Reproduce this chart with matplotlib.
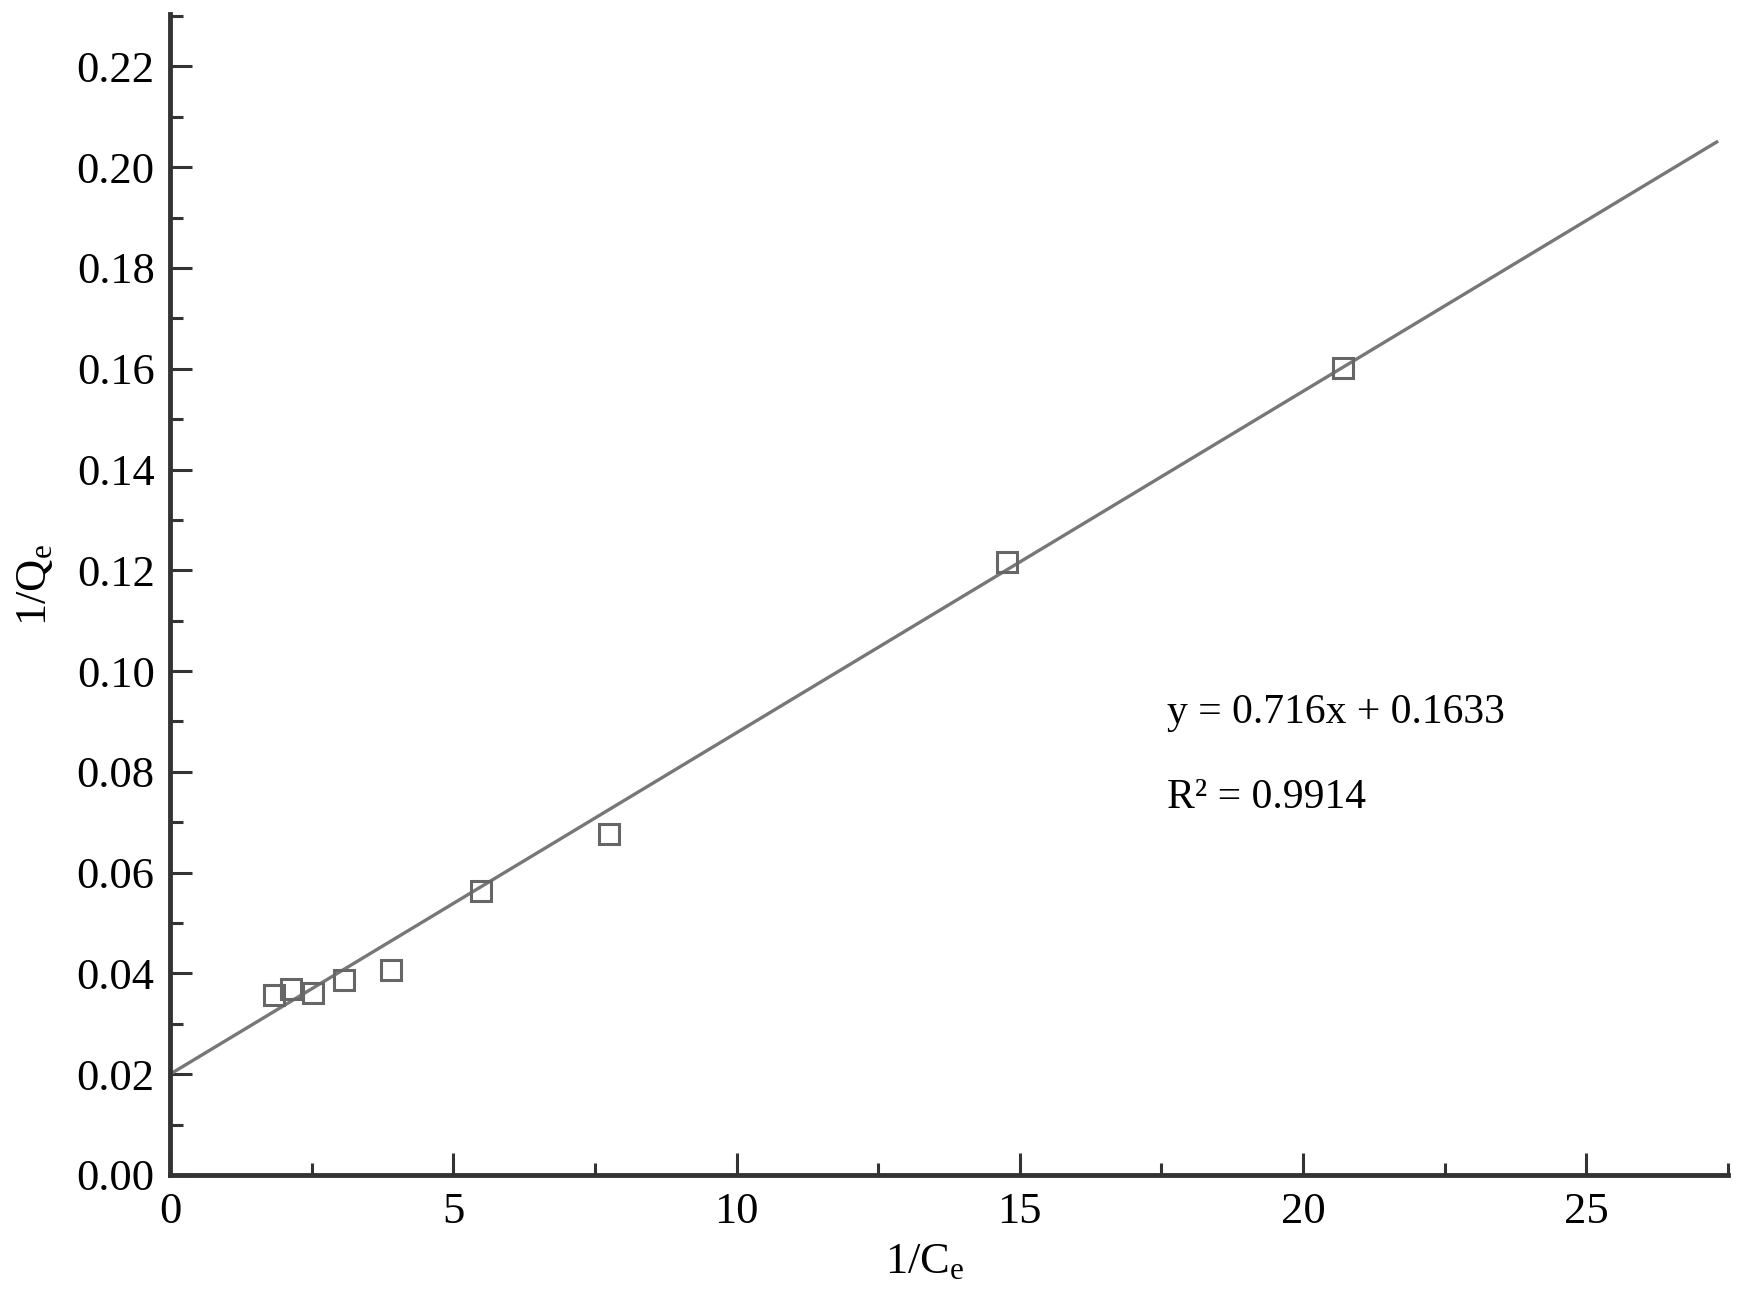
import matplotlib
matplotlib.use('Agg')
import matplotlib.pyplot as plt
from matplotlib.ticker import MultipleLocator, FormatStrFormatter

plt.rcParams['font.family'] = ['Liberation Serif', 'DejaVu Serif']
plt.rcParams['mathtext.fontset'] = 'custom'
plt.rcParams['mathtext.rm'] = 'Liberation Serif'
plt.rcParams['mathtext.it'] = 'Liberation Serif:italic'

# data
inv_ce = [1.84, 2.14, 2.53, 3.08, 3.90, 5.49, 7.74, 14.77, 20.70]
inv_qe = [0.0357, 0.0370, 0.0362, 0.0386, 0.0406, 0.0564, 0.0676, 0.1217, 0.1602]

# fitted line (end points as drawn)
fit_x = [0.0, 27.3]
fit_y = [0.0200, 0.2050]

eq_text = 'y = 0.716x + 0.1633'
r2_text = 'R² = 0.9914'

axis_col = '#333333'
mark_col = '#666666'

fig = plt.figure(figsize=(17.42, 13.01), dpi=100)
ax = fig.add_axes([170/1742, 1 - 1175/1301, 1558/1742, 1161/1301])

ax.plot(fit_x, fit_y, color='#777777', linewidth=2.4, zorder=2)
ax.plot(inv_ce, inv_qe, linestyle='none', marker='s', markersize=15,
        markerfacecolor='none', markeredgecolor=mark_col, markeredgewidth=2.2, zorder=3)

ax.set_xlim(0, 27.5)
ax.set_ylim(0, 0.2304)

ax.xaxis.set_major_locator(MultipleLocator(5))
ax.xaxis.set_minor_locator(MultipleLocator(2.5))
ax.yaxis.set_major_locator(MultipleLocator(0.02))
ax.yaxis.set_minor_locator(MultipleLocator(0.01))
ax.yaxis.set_major_formatter(FormatStrFormatter('%.2f'))

for s in ['top', 'right']:
    ax.spines[s].set_visible(False)
for s in ['left', 'bottom']:
    ax.spines[s].set_linewidth(3.5)
    ax.spines[s].set_color(axis_col)

ax.tick_params(which='both', direction='in', color=axis_col, width=2.2)
ax.tick_params(which='major', length=16)
ax.tick_params(which='minor', length=9)
ax.tick_params(axis='y', which='major', labelsize=32, pad=11)
ax.tick_params(axis='x', which='major', labelsize=32, pad=12)

ax.set_xlabel(r'1/C$_\mathrm{e}$', fontsize=32)
ax.set_ylabel(r'1/Q$_\mathrm{e}$', fontsize=32)
ax.xaxis.set_label_coords(0.4846, -0.058)
ax.yaxis.set_label_coords(-0.074, 0.508)

ax.text(0.640, 0.3897, eq_text, transform=ax.transAxes, fontsize=30, va='baseline')
ax.text(0.640, 0.3164, r2_text, transform=ax.transAxes, fontsize=30, va='baseline')

fig.savefig('out.png', dpi=100)
